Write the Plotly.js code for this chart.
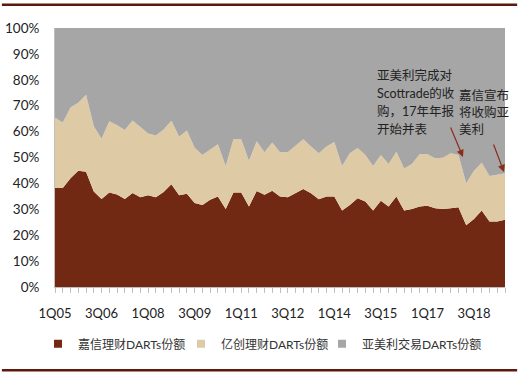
<!DOCTYPE html>
<html>
<head>
<meta charset="utf-8">
<script src="https://cdn.plot.ly/plotly-3.0.1.min.js"></script>
<style>html,body{margin:0;padding:0;background:#fff;}#chart{width:522px;height:377px;}</style>
</head>
<body>
<div id="chart"></div>
<script>
const quarters = ['1Q05','2Q05','3Q05','4Q05','1Q06','2Q06','3Q06','4Q06','1Q07','2Q07','3Q07','4Q07',
  '1Q08','2Q08','3Q08','4Q08','1Q09','2Q09','3Q09','4Q09','1Q10','2Q10','3Q10','4Q10',
  '1Q11','2Q11','3Q11','4Q11','1Q12','2Q12','3Q12','4Q12','1Q13','2Q13','3Q13','4Q13',
  '1Q14','2Q14','3Q14','4Q14','1Q15','2Q15','3Q15','4Q15','1Q16','2Q16','3Q16','4Q16',
  '1Q17','2Q17','3Q17','4Q17','1Q18','2Q18','3Q18','4Q18','1Q19','2Q19','3Q19'];
const tickLabels = ['1Q05','3Q06','1Q08','3Q09','1Q11','3Q12','1Q14','3Q15','1Q17','3Q18'];
const seriesNames = ['嘉信理财DARTs份额','亿创理财DARTs份额','亚美利交易DARTs份额'];
const schwab = [38.2,38.2,42.0,44.9,44.5,36.9,34.0,36.5,35.7,34.0,
  36.3,34.7,35.4,34.7,36.7,39.7,35.4,36.0,32.4,31.7,
  33.7,34.9,30.1,36.5,36.5,31.1,37.1,35.6,37.2,34.9,
  34.7,36.2,37.8,36.2,33.9,34.9,34.9,29.5,31.7,34.3,
  33.0,29.5,33.3,31.1,34.9,29.5,30.1,31.1,31.4,30.4,
  30.1,30.4,30.8,23.8,26.3,29.5,25.3,25.3,26.0];
const etrade = [27.1,25.3,27.3,26.2,29.7,25.2,23.2,27.5,26.8,26.6,
  28.0,27.2,23.9,23.8,24.1,24.5,22.6,24.4,21.4,19.3,
  19.2,20.2,16.6,20.5,20.5,17.6,19.2,16.4,18.6,17.1,
  17.3,18.2,19.2,18.0,17.7,19.3,21.1,17.2,19.9,19.4,
  18.0,17.2,17.7,16.4,17.3,16.3,17.4,20.2,19.9,19.3,
  19.8,21.2,20.2,16.3,18.6,18.5,17.6,18.0,17.9];
const ameritrade = [34.7,36.5,30.7,28.9,25.8,37.9,42.8,36.0,37.5,39.4,
  35.7,38.1,40.7,41.5,39.2,35.8,42.0,39.6,46.2,49.0,
  47.1,44.9,53.3,43.0,43.0,51.3,43.7,48.0,44.2,48.0,
  48.0,45.6,43.0,45.8,48.4,45.8,44.0,53.3,48.4,46.3,
  49.0,53.3,49.0,52.5,47.8,54.2,52.5,48.7,48.7,50.3,
  50.1,48.4,49.0,59.9,55.1,52.0,57.1,56.7,56.1];
const note1Lines = ['亚美利完成对','Scottrade的收','购，17年年报','开始并表'];
const note2Lines = ['嘉信宣布','将收购亚','美利'];

const colors = ['#722914','#decba6','#a6a6a6'];
const values = [schwab, etrade, ameritrade];
const legendIds = ['legend', 'legend2', 'legend3'];

const areaTraces = values.map((v, i) => ({
  type: 'scatter', mode: 'lines', x: quarters, y: v, name: seriesNames[i],
  stackgroup: 'one', line: {width: 0, color: colors[i]}, fillcolor: colors[i],
  showlegend: false, hoverinfo: 'skip'
}));
const legendTraces = seriesNames.map((n, i) => ({
  type: 'scatter', mode: 'markers', x: [quarters[0]], y: [null], name: n,
  legend: legendIds[i],
  marker: {symbol: 'square', size: 8, color: colors[i]}, hoverinfo: 'skip'
}));

const FONT = 'Lato, "Noto Sans CJK SC", sans-serif';
// plot area in pixels: top 27.5, height 260
const py = p => (287.5 - p) / 260;
const px = p => (p - 55) / 450;
const noteFont = {family: FONT, size: 12.5, color: '#222'};
const notes = [];
note1Lines.forEach((t, k) => notes.push({xref: 'paper', yref: 'paper', x: px(375), y: py(75 + 18 * k),
  xanchor: 'left', yanchor: 'middle', text: t, showarrow: false, font: noteFont}));
note2Lines.forEach((t, k) => notes.push({xref: 'paper', yref: 'paper', x: px(457), y: py(95 + 17 * k),
  xanchor: 'left', yanchor: 'middle', text: t, showarrow: false, font: noteFont}));

const legendLefts = [38, 181, 322];
const layout = {
  width: 522, height: 377,
  margin: {l: 55, r: 17, t: 27.5, b: 89.5},
  paper_bgcolor: '#fff', plot_bgcolor: '#fff',
  showlegend: true,
  font: {family: FONT, size: 13, color: '#222'},
  xaxis: {
    type: 'category', categoryorder: 'array', categoryarray: quarters,
    range: [0, quarters.length - 1],
    tickvals: quarters,
    ticktext: quarters.map(q => tickLabels.includes(q) ? q : ''),
    ticks: 'outside', ticklen: 5, tickcolor: '#bfbfbf', tickwidth: 1,
    ticklabelstandoff: 9,
    showline: true, linecolor: '#bfbfbf', linewidth: 1,
    showgrid: false, zeroline: false, tickangle: 0,
    tickfont: {family: FONT, size: 13, color: '#222'}
  },
  yaxis: {
    range: [0, 100], dtick: 10, ticksuffix: '%',
    showline: true, linecolor: '#bfbfbf', linewidth: 1,
    showgrid: false, zeroline: false, ticks: '',
    ticklabelstandoff: 12,
    tickfont: {family: FONT, size: 13.5, color: '#222'}
  },
  shapes: [
    {type: 'line', xref: 'paper', yref: 'paper', x0: -0.118, x1: 1.027, y0: 1.090, y1: 1.090,
     line: {color: '#5c1a0e', width: 2.5}},
    {type: 'line', xref: 'paper', yref: 'paper', x0: -0.118, x1: 1.027, y0: -0.321, y1: -0.321,
     line: {color: '#5c1a0e', width: 2.5}}
  ],
  annotations: notes.concat([
    {xref: 'paper', yref: 'paper', x: px(463), y: py(157), text: '', showarrow: true,
     ax: -13, ay: -31, arrowhead: 2, arrowsize: 1.2, arrowwidth: 1.2, arrowcolor: '#8b2d1b'},
    {xref: 'paper', yref: 'paper', x: px(504), y: py(172), text: '', showarrow: true,
     ax: -11, ay: -29, arrowhead: 2, arrowsize: 1.2, arrowwidth: 1.2, arrowcolor: '#8b2d1b'}
  ])
};
legendIds.forEach((id, i) => {
  layout[id] = {
    orientation: 'h', xref: 'container', x: legendLefts[i] / 522, xanchor: 'left',
    yref: 'container', y: 0.088, yanchor: 'middle',
    font: {family: FONT, size: 12, color: '#333'}, itemwidth: 30,
    bgcolor: 'rgba(0,0,0,0)'
  };
});

Plotly.newPlot('chart', areaTraces.concat(legendTraces), layout, {displayModeBar: false, staticPlot: true});
</script>
</body>
</html>
